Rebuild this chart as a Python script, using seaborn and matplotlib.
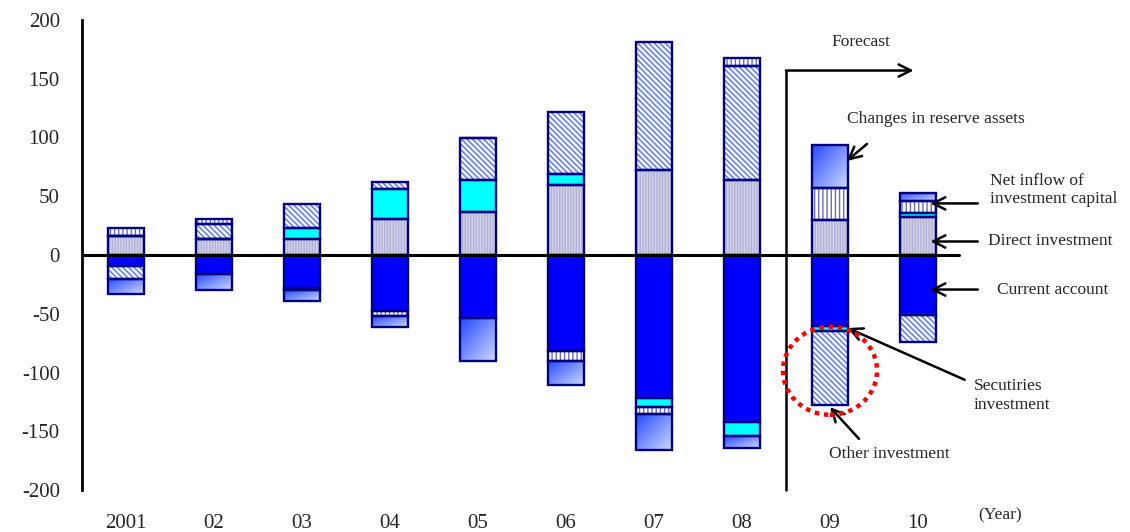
import numpy as np
import matplotlib
matplotlib.use("Agg")
import matplotlib.pyplot as plt
import seaborn as sns
from matplotlib.colors import LinearSegmentedColormap
from matplotlib.patches import Ellipse

# ---- data (USD bn) -------------------------------------------------------
years = ["2001", "02", "03", "04", "05", "06", "07", "08", "09", "10"]
current_account = [-9, -16, -28, -48, -54, -82, -122, -142, -60, -51]
direct_investment = [16, 14, 14, 31, 37, 60, 72, 64, 30, 32]
securities_investment = [0, 0, 9, 25, 27, 9, -7, -12, -5, 4]
other_investment = [-11, 12, 20, 6, 36, 53, 109, 97, -63, -23]
net_inflow = [7, 5, -2, -4, 0, -8, -6, 7, 27, 10]
reserve_changes = [-13, -14, -9, -9, -36, -21, -31, -10, 37, 7]

# ---- styling ---------------------------------------------------------------
sns.set_style("white")
plt.rcParams["font.family"] = ["Liberation Serif", "DejaVu Serif"]
plt.rcParams["axes.unicode_minus"] = False
plt.rcParams["hatch.linewidth"] = 1.0

NAVY = "#000080"
BAR_W = 0.4

# stacking order away from zero: (values, face, hatch, hatch colour)
layers = [
    (current_account, "#0000ff", None, None),
    (direct_investment, "#d2d2ea", "||||||", "#b2b2d6"),
    (securities_investment, "#00ffff", None, None),
    (other_investment, "#f2f4ff", "\\\\\\\\\\\\", "#5a76ff"),
    (net_inflow, "#ffffff", "||||", "#6a6ac4"),
    (reserve_changes, "#8aa0ff", None, None),  # gradient painted on top
]

fig = plt.figure(figsize=(11.3, 5.32), dpi=100)
ax = fig.add_axes([82 / 1130, 42 / 532, 880 / 1130, 470 / 532])

pos_base = np.zeros(len(years))
neg_base = np.zeros(len(years))
segments = []
for vals, face, hatch, hcol in layers:
    v = np.asarray(vals, dtype=float)
    bottom = np.where(v >= 0, pos_base, neg_base)
    segments.append((v, bottom, face, hatch, hcol))
    pos_base = pos_base + np.where(v > 0, v, 0)
    neg_base = neg_base + np.where(v < 0, v, 0)

# fills (hatch lines take the edge colour, so the edge itself is not stroked)
for v, bottom, face, hatch, hcol in segments:
    sns.barplot(x=years, y=v, order=years, bottom=bottom, color=face,
                saturation=1, width=BAR_W, errorbar=None, ax=ax,
                hatch=hatch, edgecolor=hcol if hcol else face,
                linewidth=0, zorder=2)

# gradient fill for changes in reserve assets
grad_cmap = LinearSegmentedColormap.from_list("resv", ["#2448ff", "#cdd8ff"])
n = 64
rr, cc = np.mgrid[0:n, 0:n] / (n - 1)
grad = (rr + cc) / 2
v_res, b_res = segments[-1][0], segments[-1][1]
for i in range(len(years)):
    if v_res[i] == 0:
        continue
    lo, hi = sorted([b_res[i], b_res[i] + v_res[i]])
    ax.imshow(grad, extent=[i - BAR_W / 2, i + BAR_W / 2, lo, hi],
              origin="upper", aspect="auto", cmap=grad_cmap,
              interpolation="bilinear", zorder=2.5)

# navy outline around every segment
for v, bottom, *_ in segments:
    sns.barplot(x=years, y=v, order=years, bottom=bottom, color=NAVY,
                saturation=1, width=BAR_W, errorbar=None, ax=ax,
                fill=False, linewidth=1.7, zorder=3)

# ---- axes ------------------------------------------------------------------
ax.set_xlim(-0.5, 9.5)
ax.set_ylim(-200, 200)
ax.set_yticks(np.arange(-200, 201, 50))
ax.set_xlabel("")
ax.set_ylabel("")
for s in ("top", "right", "bottom"):
    ax.spines[s].set_visible(False)
ax.spines["left"].set_color("black")
ax.spines["left"].set_linewidth(2)
ax.tick_params(axis="y", length=0, pad=16, labelsize=15)
ax.tick_params(axis="x", length=0, pad=17, labelsize=15)
ax.axhline(0, xmin=0, xmax=(959 - 82) / 880, color="black", lw=2.2, zorder=4)

# ---- forecast marker -------------------------------------------------------
arrow_kw = dict(arrowstyle="->", lw=1.8, color="black",
                mutation_scale=22, shrinkA=0, shrinkB=0)
ax.plot([7.5, 7.5], [-200, 157], color="black", lw=1.8, clip_on=False, zorder=4)
ax.annotate("", xy=(8.95, 157), xytext=(7.5, 157), arrowprops=arrow_kw)
ax.text(8.35, 181, "Forecast", ha="center", va="center", fontsize=12.5)

# ---- component labels --------------------------------------------------------
tf = 12.5
ax.text(9.2, 115.5, "Changes in reserve assets", ha="center", va="center",
        fontsize=tf, clip_on=False)
ax.annotate("", xy=(8.19, 80), xytext=(8.42, 94.5), arrowprops=arrow_kw)

ax.text(9.82, 55, "Net inflow of\ninvestment capital", ha="left", va="center",
        fontsize=tf, linespacing=1.15, clip_on=False)
ax.annotate("", xy=(9.14, 43.9), xytext=(9.68, 43.9), arrowprops=arrow_kw,
            annotation_clip=False)

ax.text(9.8, 11.8, "Direct investment", ha="left", va="center",
        fontsize=tf, clip_on=False)
ax.annotate("", xy=(9.14, 11.5), xytext=(9.68, 11.5), arrowprops=arrow_kw,
            annotation_clip=False)

ax.text(10.53, -29.4, "Current account", ha="center", va="center",
        fontsize=tf, clip_on=False)
ax.annotate("", xy=(9.14, -29.4), xytext=(9.68, -29.4), arrowprops=arrow_kw,
            annotation_clip=False)

ax.text(9.63, -119.8, "Secutiries\ninvestment", ha="left", va="center",
        fontsize=tf, linespacing=1.25, clip_on=False)
ax.annotate("", xy=(8.2, -62.1), xytext=(9.53, -106.2), arrowprops=arrow_kw)

ax.text(8.68, -169.3, "Other investment", ha="center", va="center",
        fontsize=tf, clip_on=False)
ax.annotate("", xy=(8.0, -129.5), xytext=(8.33, -156.5), arrowprops=arrow_kw)

ax.text(9.93, -221.3, "(Year)", ha="center", va="center", fontsize=12.5,
        clip_on=False)

# highlight ring around the 2009 outflow
ax.add_patch(Ellipse((8.0, -98.5), 1.068, 75, fill=False, edgecolor="#ff0000",
                     lw=3.2, linestyle=(0, (1, 1.1)), zorder=5))

fig.savefig("out.png", dpi=100)
